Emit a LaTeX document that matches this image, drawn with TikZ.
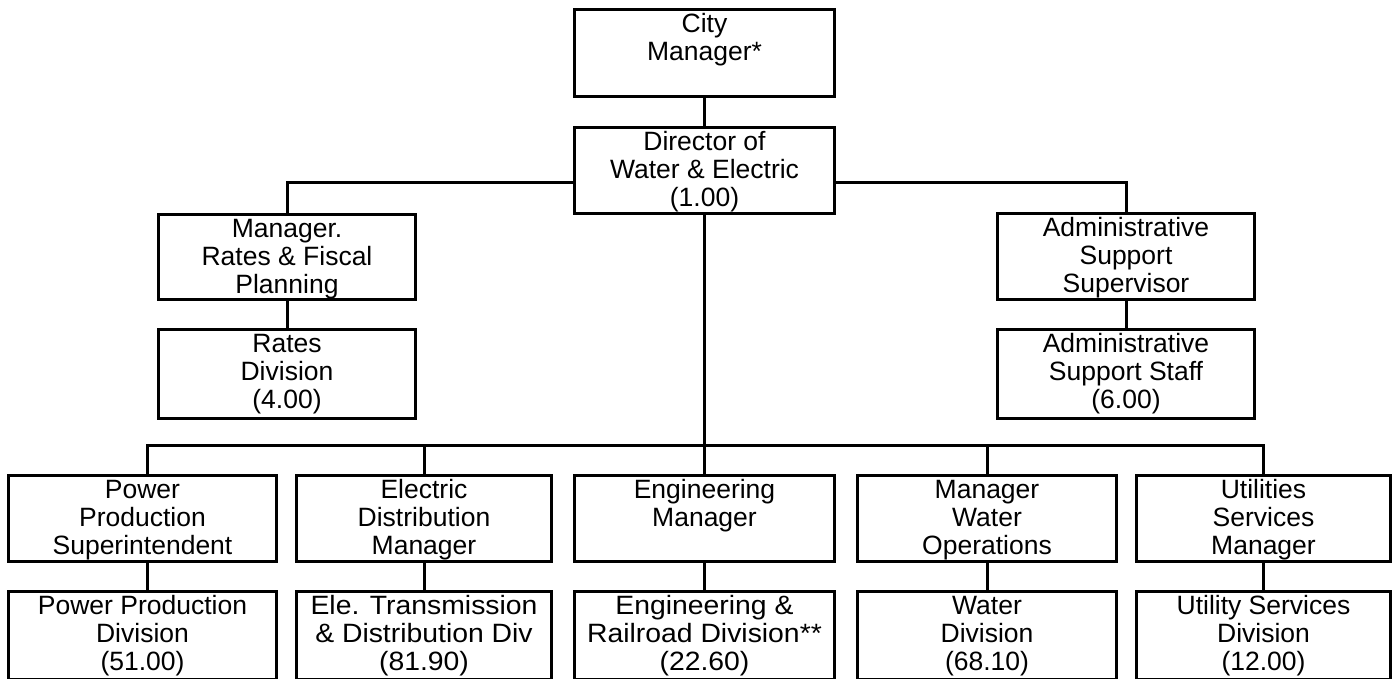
\documentclass[tikz,border=0pt]{standalone}
\usepackage{fontspec}
\setmainfont{Liberation Sans}
\newfontfamily\widefont[FakeStretch=1.07]{Liberation Sans}
\newcommand{\ot}[3]{\parbox[c][#2pt][t]{#1pt}{\centering\rule{0pt}{23pt}#3\par}}
\begin{document}
\begin{tikzpicture}[x=1pt,y=-1pt,
  box/.style={draw, line width=3pt, inner sep=0pt, anchor=north west,
    font=\fontsize{26.5}{28}\selectfont},
  widebox/.style={box, font=\widefont\fontsize{26.5}{28}\selectfont},
  conn/.style={line width=3pt}]
\useasboundingbox (0,0) rectangle (1393,679);
% top
\node[box] (city) at (573,8) {\ot{260}{87}{City\\Manager*}};
\node[box] (dir) at (573,126) {\ot{260}{86}{Director of\\Water \& Electric\\(1.00)}};
\node[box] (rmgr) at (157,213) {\ot{257}{85}{Manager.\\Rates \& Fiscal\\Planning}};
\node[box] (rdiv) at (157,328) {\ot{257}{89}{Rates\\Division\\(4.00)}};
\node[box] (asup) at (996,212) {\ot{257}{86}{Administrative\\Support\\Supervisor}};
\node[box] (astf) at (996,328) {\ot{257}{89}{Administrative\\Support Staff\\(6.00)}};
% row 1
\node[box] (pps) at (7,474) {\ot{268}{86}{Power\\Production\\Superintendent}};
\node[box] (edm) at (295,474) {\ot{255}{86}{Electric\\Distribution\\Manager}};
\node[box] (eng) at (573,474) {\ot{260}{86}{Engineering\\Manager}};
\node[box] (mwo) at (856,474) {\ot{259}{86}{Manager\\Water\\Operations}};
\node[box] (usm) at (1135,474) {\ot{254}{86}{Utilities\\Services\\Manager}};
% row 2
\node[box] (ppd) at (7,590) {\ot{268}{88}{Power Production\\Division\\(51.00)}};
\node[widebox] (etd) at (295,590) {\ot{255}{88}{Ele. Transmission\\\& Distribution Div\\(81.90)}};
\node[widebox] (erd) at (573,590) {\ot{260}{88}{Engineering \&\\Railroad Division**\\(22.60)}};
\node[box] (wd) at (856,590) {\ot{259}{88}{Water\\Division\\(68.10)}};
\node[box] (usd) at (1135,590) {\ot{254}{88}{Utility Services\\Division\\(12.00)}};
% connectors
\coordinate (hl) at (0,183);
\coordinate (busL) at (147,445);
\coordinate (busR) at (1263,445);
\draw[conn] (city.south) -- (dir.north);
\draw[conn] (rmgr.north) |- (dir.west |- hl);
\draw[conn] (asup.north) |- (dir.east |- hl);
\draw[conn] (rmgr.south) -- (rdiv.north);
\draw[conn] (asup.south) -- (astf.north);
\draw[conn] (dir.south) -- (dir.south |- busL);
\draw[conn] (busL |- pps.north) -- (busL) -- (busR) -- (busR |- usm.north);
\draw[conn] (edm.north) -- (edm.north |- busL);
\draw[conn] (eng.north) -- (eng.north |- busL);
\draw[conn] (mwo.north) -- (mwo.north |- busL);
\draw[conn] (busL |- pps.south) -- (busL |- ppd.north);
\draw[conn] (edm.south) -- (etd.north);
\draw[conn] (eng.south) -- (erd.north);
\draw[conn] (mwo.south) -- (wd.north);
\draw[conn] (usm.south) -- (usd.north);
\end{tikzpicture}
\end{document}
